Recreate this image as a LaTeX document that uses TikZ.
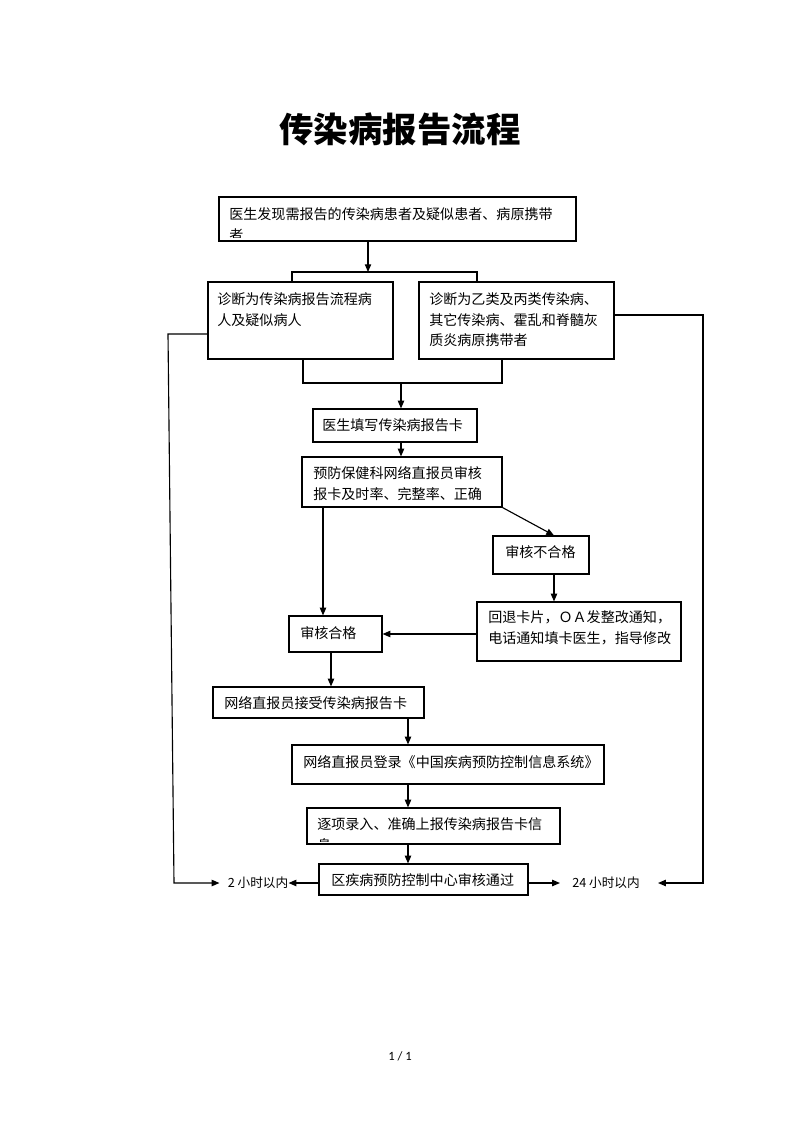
\documentclass[tikz,border=0pt]{standalone}
\usepackage{fontspec}
\setmainfont{Noto Sans CJK SC}
\newfontfamily\pagefont{Carlito}
\usetikzlibrary{arrows.meta,fit}

\begin{document}
\begin{tikzpicture}[x=0.025cm,y=-0.025cm,
    box/.style={draw,line width=0.8pt,inner sep=0pt},
    txt/.style={inner sep=0pt,align=left,font=\fontsize{10}{14.6}\selectfont},
    lbl/.style={inner sep=0pt,font=\fontsize{9}{10}\selectfont},
    arr/.style={line width=0.8pt,-{Triangle[length=5.5pt,width=4.5pt]}}]
    \useasboundingbox (0,0) rectangle (800,1132);

    % Title
    \node[font=\fontsize{24.5}{28}\selectfont\bfseries] (title) at (400,129) {传染病报告流程};

    % Boxes
    \node[box,fit={(219,197) (576,241)}] (b1) {};
    \node[box,fit={(208,282) (393,359)}] (b2) {};
    \node[box,fit={(419,282) (614,359)}] (b3) {};
    \node[box,fit={(313,409) (477,442)}] (b4) {};
    \node[box,fit={(302,457) (502,507)}] (b5) {};
    \node[box,fit={(493,536) (589,574)}] (b6) {};
    \node[box,fit={(477,602) (681,661)}] (b7) {};
    \node[box,fit={(289,616) (382,652)}] (b8) {};
    \node[box,fit={(213,687) (424,718)}] (b9) {};
    \node[box,fit={(292,745) (604,784)}] (b10) {};
    \node[box,fit={(307,808) (560,844)}] (b11) {};
    \node[box,fit={(319,864) (528,895)}] (b12) {};

    % Box texts (second line cut off by the box, as printed)
    \begin{scope}
        \clip (b1.north west) rectangle ([shift={(0,-4)}]b1.south east);
        \node[txt,anchor=north west] (t1) at (229,207.5) {医生发现需报告的传染病患者及疑似患者、病原携带\\者};
    \end{scope}
    \node[txt,anchor=north west] (t2) at (217,292.5) {诊断为传染病报告流程病\\人及疑似病人};
    \node[txt,anchor=north west] (t3) at (429,292.5) {诊断为乙类及丙类传染病、\\其它传染病、霍乱和脊髓灰\\质炎病原携带者};
    \node[txt,anchor=west] (t4) at (322,425) {医生填写传染病报告卡};
    \node[txt,anchor=north west] (t5) at (313,466.5) {预防保健科网络直报员审核\\报卡及时率、完整率、正确};
    \node[txt,anchor=west] (t6) at (505,552) {审核不合格};
    \node[txt,anchor=north west] (t7) at (488,610.5) {回退卡片，ＯＡ发整改通知，\\电话通知填卡医生，指导修改};
    \node[txt,anchor=west] (t8) at (300,633) {审核合格};
    \node[txt,anchor=west] (t9) at (224,703) {网络直报员接受传染病报告卡};
    \node[txt,anchor=west] (t10) at (303,762) {网络直报员登录《中国疾病预防控制信息系统》};
    \begin{scope}
        \clip (b11.north west) rectangle ([shift={(0,-3)}]b11.south east);
        \node[txt,anchor=north west] (t11) at (317,817.5) {逐项录入、准确上报传染病报告卡信\\息};
    \end{scope}
    \node[txt,anchor=west] (t12) at (331,880) {区疾病预防控制中心审核通过};

    % Time labels
    \node[lbl] (l2) at (258,883) {2 小时以内};
    \node[lbl] (l24) at (606,883) {24 小时以内};

    % Helper points
    \coordinate (a1) at (368,272);
    \coordinate (jl) at (292,272);
    \coordinate (jr) at (477,272);
    \coordinate (kl) at (303,383);
    \coordinate (kr) at (502,383);
    \coordinate (km) at (401,383);
    \coordinate (x6) at (554,560);
    \coordinate (x8) at (323,560);
    \coordinate (x9) at (331,670);
    \coordinate (xm) at (408,800);
    \coordinate (ol) at (168,334);
    \coordinate (ob) at (174,883);
    \coordinate (or) at (703,315);

    % Connectors
    \draw[arr] (a1 |- b1.south) -- (a1);
    \draw[line width=0.8pt] (jl |- b2.north) -- (jl) -- (jr) -- (jr |- b3.north);
    \draw[line width=0.8pt] (kl |- b2.south) -- (kl) -- (kr) -- (kr |- b3.south);
    \draw[arr] (km) -- (km |- b4.north);
    \draw[arr] (km |- b4.south) -- (km |- b5.north);
    \draw[arr] (b5.south east) -- (x6 |- b6.north);
    \draw[arr] (x6 |- b6.south) -- (x6 |- b7.north);
    \draw[arr] (x8 |- b5.south) -- (x8 |- b8.north);
    \draw[arr] (b7.west |- b8.east) -- (b8.east);
    \draw[arr] (x9 |- b8.south) -- (x9 |- b9.north);
    \draw[arr] (xm |- b9.south) -- (xm |- b10.north);
    \draw[arr] (xm |- b10.south) -- (xm |- b11.north);
    \draw[arr] (xm |- b11.south) -- (xm |- b12.north);

    % Time routes
    \draw[arr,shorten >=0.2cm] (b2.west |- ol) -- (ol) -- (ob) -- (l2.west);
    \draw[arr] (b12.west |- l2) -- (l2.east);
    \draw[arr,shorten >=0.3cm] (b12.east |- l24) -- (l24.west);
    \draw[arr,shorten >=0.45cm] (b3.east |- or) -- (or) -- (or |- l24) -- (l24.east);

    % Page number
    \node[font=\pagefont\fontsize{9}{10}\selectfont] (pg) at (400,1056) {1 / 1};
\end{tikzpicture}
\end{document}
